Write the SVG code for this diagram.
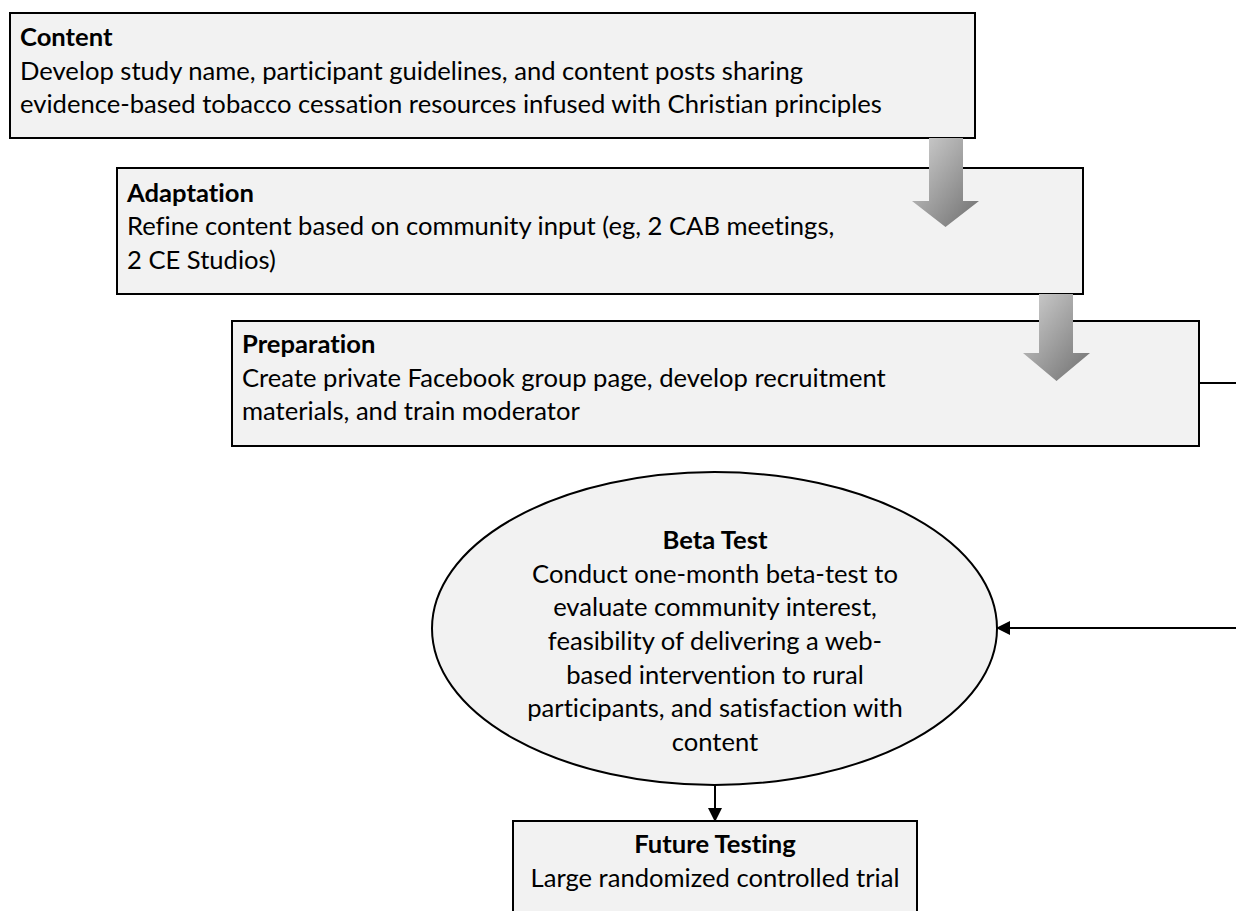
<svg xmlns="http://www.w3.org/2000/svg" width="1236" height="911" viewBox="0 0 1236 911">
<style>
.box{fill:#f2f2f2;stroke:#000;stroke-width:2}
.t{font-family:Lato,"Liberation Sans",sans-serif;font-size:25.6px;fill:#000;font-variant-ligatures:none;font-feature-settings:"liga" 0}
.b{font-weight:bold}
.c{text-anchor:middle}
.ln{fill:none;stroke:#000;stroke-width:2}
.ga{fill:url(#g);stroke:none}
</style>
<defs>
<linearGradient id="g" x1="0" y1="0" x2="1" y2="1">
<stop offset="0" stop-color="#d2d2d2"/>
<stop offset="1" stop-color="#6e6e6e"/>
</linearGradient>
<marker id="ah" markerWidth="14" markerHeight="14" refX="13" refY="7" orient="auto" markerUnits="userSpaceOnUse">
<path d="M0,0 L14,7 L0,14 Z" fill="#000"/>
</marker>
</defs>
<rect width="1236" height="911" fill="#fff"/>
<g id="content">
<rect class="box" x="10" y="13" width="965" height="125"/>
<text class="t b" x="20" y="46">Content</text>
<text class="t" x="20" y="79.5">Develop study name, participant guidelines, and content posts sharing</text>
<text class="t" x="20" y="113">evidence-based tobacco cessation resources infused with Christian principles</text>
</g>
<g id="adaptation">
<rect class="box" x="117" y="168" width="966" height="126"/>
<text class="t b" x="127" y="201.5">Adaptation</text>
<text class="t" x="127" y="235">Refine content based on community input (eg, 2 CAB meetings,</text>
<text class="t" x="127" y="268.5">2 CE Studios)</text>
</g>
<g id="preparation">
<rect class="box" x="232" y="321" width="967" height="125"/>
<text class="t b" x="242" y="353">Preparation</text>
<text class="t" x="242" y="386.5">Create private Facebook group page, develop recruitment</text>
<text class="t" x="242" y="420">materials, and train moderator</text>
</g>
<g id="beta-test">
<ellipse class="box" cx="714.5" cy="628.5" rx="282.5" ry="156.5"/>
<text class="t b c" x="715" y="549">Beta Test</text>
<text class="t c" x="715" y="582.5">Conduct one-month beta-test to</text>
<text class="t c" x="715" y="616">evaluate community interest,</text>
<text class="t c" x="715" y="650">feasibility of delivering a web-</text>
<text class="t c" x="715" y="683.5">based intervention to rural</text>
<text class="t c" x="715" y="717">participants, and satisfaction with</text>
<text class="t c" x="715" y="751">content</text>
</g>
<g id="future-testing">
<rect class="box" x="513" y="821" width="404" height="110"/>
<text class="t b c" x="715" y="853">Future Testing</text>
<text class="t c" x="715" y="887">Large randomized controlled trial</text>
</g>
<g id="connectors">
<path class="ga" d="M929,138 H963 V201 H979 L945.5,227 L912,201 H929 Z"/>
<path class="ga" d="M1039,294 H1073 V353 H1090 L1056.5,381 L1023,353 H1039 Z"/>
<polyline class="ln" points="1199,383 1250,383 1250,628 997,628" marker-end="url(#ah)"/>
<line class="ln" x1="715" y1="785" x2="715" y2="821" marker-end="url(#ah)"/>
</g>
</svg>
